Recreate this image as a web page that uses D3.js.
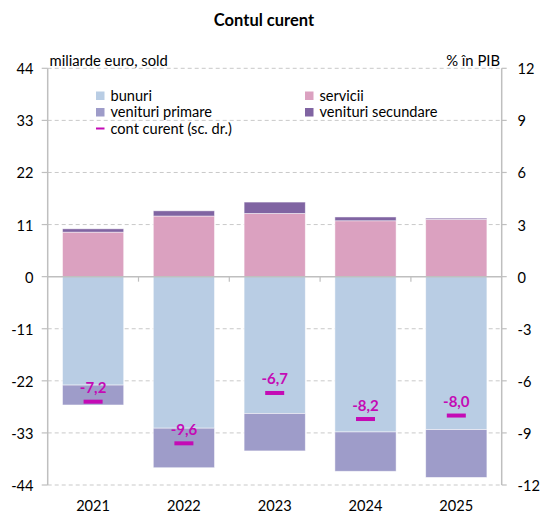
<!DOCTYPE html>
<html>
<head>
<meta charset="utf-8">
<script src="https://cdn.jsdelivr.net/npm/d3@7"></script>
<style>
  body { margin: 0; background: #fff; }
  svg text { font-family: Lato, "Noto Sans", sans-serif; fill: #000; }
</style>
</head>
<body>
<svg id="chart" width="551" height="527"></svg>
<script>
// values (miliarde euro, sold)
const years = ["2021", "2022", "2023", "2024", "2025"];
const bunuri = [-22.9, -32.0, -28.9, -32.8, -32.3];
const servicii = [9.4, 12.8, 13.35, 11.8, 12.1];
const venituriPrimare = [-4.2, -8.35, -7.9, -8.3, -10.1];
const venituriSecundare = [0.7, 1.1, 2.4, 0.8, 0.25];
// % in PIB, right axis
const contCurent = [-7.2, -9.6, -6.7, -8.2, -8.0];

const leftTicks = [44, 33, 22, 11, 0, -11, -22, -33, -44];
const rightTicks = [12, 9, 6, 3, 0, -3, -6, -9, -12];

const seriesNames = ["bunuri", "servicii", "venituri primare", "venituri secundare"];
const colors = ["#b9cde4", "#dba1c0", "#9e9cc9", "#8064a2"];
const ccColor = "#c40bb5";

const margin = { left: 47.7, right: 501.7, top: 68.3, bottom: 485 };
const svg = d3.select("#chart");

const x = d3.scaleBand().domain(years).range([margin.left, margin.right]).paddingInner(0.326).paddingOuter(0.163);
const y = d3.scaleLinear().domain([-44, 44]).range([margin.bottom, margin.top]);
const y2 = d3.scaleLinear().domain([-12, 12]).range([margin.bottom, margin.top]);

// title
svg.append("text").attr("x", 264).attr("y", 26).attr("text-anchor", "middle")
  .style("font-size", "16.5px").style("font-weight", "bold").text("Contul curent");

// gridlines
svg.append("g").selectAll("line").data(leftTicks.filter(d => d !== 0)).join("line")
  .attr("x1", margin.left).attr("x2", margin.right)
  .attr("y1", d => y(d)).attr("y2", d => y(d))
  .attr("stroke", "#c9c9c9").attr("stroke-width", 1).attr("stroke-dasharray", "4,3");

// axis captions
svg.append("text").attr("x", 49.5).attr("y", 66).style("font-size", "14.8px").text("miliarde euro, sold");
svg.append("text").attr("x", 500).attr("y", 66).attr("text-anchor", "end").style("font-size", "14.8px").text("% în PIB");

// stacked bars
const rows = years.map((yr, i) => ({
  year: yr,
  "bunuri": bunuri[i],
  "servicii": servicii[i],
  "venituri primare": venituriPrimare[i],
  "venituri secundare": venituriSecundare[i],
}));
const stacked = d3.stack().keys(seriesNames).offset(d3.stackOffsetDiverging)(rows);

svg.append("g").selectAll("g").data(stacked).join("g")
  .attr("fill", (d, i) => colors[i])
  .selectAll("rect").data(d => d).join("rect")
  .attr("x", d => x(d.data.year))
  .attr("width", x.bandwidth())
  .attr("y", d => y(Math.max(d[0], d[1])))
  .attr("height", d => Math.abs(y(d[0]) - y(d[1])))
  .attr("stroke", "#fff").attr("stroke-width", 0.8).attr("stroke-opacity", 0.6);

// zero line + category ticks
svg.append("line").attr("x1", margin.left).attr("x2", margin.right)
  .attr("y1", y(0)).attr("y2", y(0)).attr("stroke", "#bfbfbf").attr("stroke-width", 1.5);
const step = x.step();
svg.append("g").selectAll("line").data(d3.range(1, years.length)).join("line")
  .attr("x1", i => margin.left + i * step).attr("x2", i => margin.left + i * step)
  .attr("y1", y(0)).attr("y2", y(0) + 5)
  .attr("stroke", "#bfbfbf").attr("stroke-width", 1.2);

// left axis
const leftAxis = svg.append("g");
leftAxis.append("line").attr("x1", margin.left).attr("x2", margin.left)
  .attr("y1", margin.top).attr("y2", margin.bottom).attr("stroke", "#bfbfbf").attr("stroke-width", 1.5);
leftAxis.selectAll("line.t").data(leftTicks).join("line").attr("class", "t")
  .attr("x1", margin.left - 6).attr("x2", margin.left)
  .attr("y1", d => y(d)).attr("y2", d => y(d)).attr("stroke", "#bfbfbf").attr("stroke-width", 1.2);
leftAxis.selectAll("text").data(leftTicks).join("text")
  .attr("x", 33.5).attr("y", d => y(d) + 6).attr("text-anchor", "end")
  .style("font-size", "14.6px").text(d => d);

// right axis
const rightAxis = svg.append("g");
rightAxis.append("line").attr("x1", margin.right).attr("x2", margin.right)
  .attr("y1", margin.top).attr("y2", margin.bottom).attr("stroke", "#bfbfbf").attr("stroke-width", 1.5);
rightAxis.selectAll("line.t").data(rightTicks).join("line").attr("class", "t")
  .attr("x1", margin.right).attr("x2", margin.right + 5)
  .attr("y1", d => y2(d)).attr("y2", d => y2(d)).attr("stroke", "#bfbfbf").attr("stroke-width", 1.2);
rightAxis.selectAll("text").data(rightTicks).join("text")
  .attr("x", 517.5).attr("y", d => y2(d) + 6)
  .style("font-size", "14.6px").text(d => d);

// x labels
svg.append("g").selectAll("text").data(years).join("text")
  .attr("x", d => x(d) + x.bandwidth() / 2).attr("y", 511)
  .attr("text-anchor", "middle").style("font-size", "14.6px").text(d => d);

// cont curent markers
const cc = svg.append("g");
cc.selectAll("rect").data(contCurent).join("rect")
  .attr("x", (d, i) => x(years[i]) + x.bandwidth() / 2 - 9.5)
  .attr("y", d => y2(d) - 2).attr("width", 19).attr("height", 4)
  .attr("fill", ccColor);
cc.selectAll("text").data(contCurent).join("text")
  .attr("x", (d, i) => x(years[i]) + x.bandwidth() / 2)
  .attr("y", d => y2(d) - 8.5)
  .attr("text-anchor", "middle")
  .style("font-size", "15px").style("font-weight", "bold").style("fill", ccColor)
  .text(d => d3.format(".1f")(d).replace("−", "-").replace(".", ","));

// legend
const legendItems = [
  { name: "bunuri", color: colors[0], x: 96, y: 95.5 },
  { name: "servicii", color: colors[1], x: 305, y: 95.5 },
  { name: "venituri primare", color: colors[2], x: 96, y: 112 },
  { name: "venituri secundare", color: colors[3], x: 305, y: 112 },
];
const lg = svg.append("g");
lg.selectAll("rect").data(legendItems).join("rect")
  .attr("x", d => d.x).attr("y", d => d.y - 4).attr("width", 8.5).attr("height", 8.5)
  .attr("fill", d => d.color);
lg.selectAll("text").data(legendItems).join("text")
  .attr("x", d => d.x + 14.5).attr("y", d => d.y + 5)
  .style("font-size", "14.6px").text(d => d.name);
lg.append("rect").attr("x", 96).attr("y", 127.5).attr("width", 8.5).attr("height", 2).attr("fill", ccColor);
lg.append("text").attr("x", 110.5).attr("y", 133.5).style("font-size", "14.6px").text("cont curent (sc. dr.)");
</script>
</body>
</html>
